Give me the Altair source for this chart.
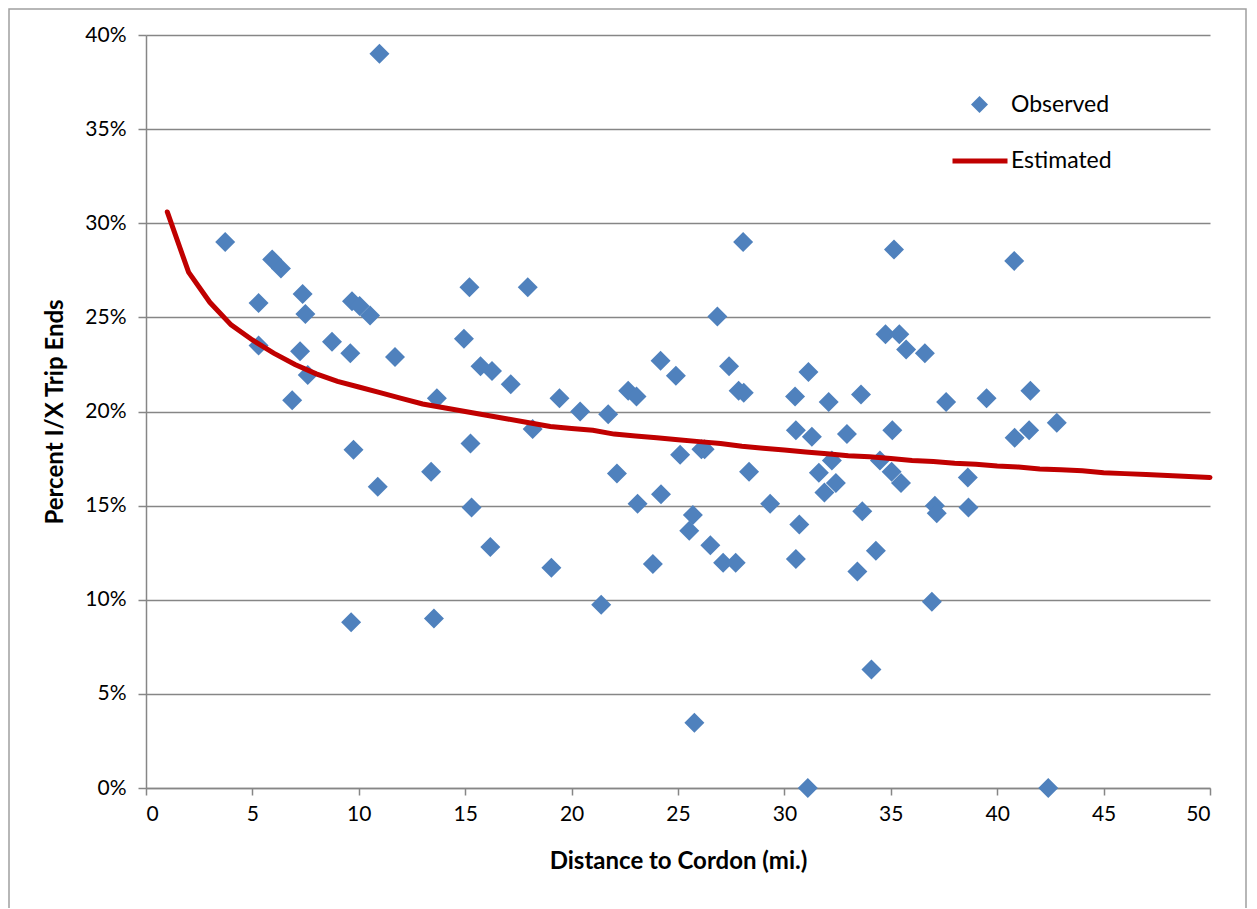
import altair as alt
import pandas as pd

# Observed points: distance (mi.) and percent I/X trip ends
obs_dist = [3.72, 5.29, 5.29, 5.93, 6.34, 7.36, 7.49, 7.24, 6.87, 7.6,
            8.74, 9.68, 10.04, 10.53, 9.6, 9.75, 9.64, 10.97, 10.89, 11.7,
            13.4, 13.67, 13.53, 14.94, 15.2, 15.25, 15.3, 15.72, 16.26, 16.18,
            17.14, 17.94, 18.17, 19.05, 19.43, 20.4, 21.39, 21.72, 22.13, 22.66,
            23.05, 23.1, 23.82, 24.18, 24.2, 24.9, 25.1, 25.53, 25.7, 25.77,
            26.1, 26.25, 26.52, 26.85, 27.12, 27.4, 27.71, 27.85, 28.06, 28.09,
            28.34, 29.33, 30.5, 30.54, 30.54, 30.7, 31.13, 31.29, 31.1, 31.62,
            31.88, 32.08, 32.23, 32.42, 32.94, 33.43, 33.6, 33.66, 34.09, 34.3,
            34.49, 34.75, 35.04, 35.07, 35.15, 35.4, 35.48, 35.72, 36.6, 36.93,
            37.07, 37.16, 37.6, 38.62, 38.65, 39.5, 40.8, 40.82, 41.5, 41.56,
            42.4, 42.8]
obs_pct = [29.0, 25.76, 23.5, 28.08, 27.6, 26.24, 25.18, 23.2, 20.6, 21.94,
           23.7, 25.86, 25.6, 25.1, 23.1, 17.97, 8.8, 39.0, 16.0, 22.9,
           16.8, 20.7, 9.0, 23.87, 26.6, 18.3, 14.9, 22.4, 22.15, 12.8,
           21.45, 26.6, 19.07, 11.7, 20.7, 20.0, 9.74, 19.85, 16.7, 21.1,
           20.8, 15.1, 11.9, 22.7, 15.6, 21.9, 17.7, 13.67, 14.5, 3.47,
           18.0, 18.0, 12.9, 25.05, 11.97, 22.4, 11.97, 21.1, 29.0, 21.0,
           16.8, 15.1, 20.8, 19.0, 12.16, 14.0, 22.1, 18.66, 0.0, 16.75,
           15.7, 20.5, 17.4, 16.2, 18.8, 11.5, 20.9, 14.7, 6.3, 12.6,
           17.4, 24.1, 16.8, 19.0, 28.6, 24.1, 16.2, 23.3, 23.1, 9.9,
           15.0, 14.6, 20.5, 16.5, 14.9, 20.7, 28.0, 18.6, 19.0, 21.1,
           0.0, 19.4]

# Estimated curve, read at each whole mile
est_dist = list(range(1, 51))
est_pct = [30.6, 27.4, 25.8, 24.6, 23.8, 23.1, 22.5, 22.0, 21.6, 21.3,
           21.0, 20.7, 20.4, 20.2, 20.0, 19.8, 19.6, 19.4, 19.2, 19.1,
           19.0, 18.8, 18.7, 18.6, 18.5, 18.4, 18.3, 18.15, 18.05, 17.95,
           17.85, 17.75, 17.65, 17.6, 17.5, 17.4, 17.35, 17.25, 17.2, 17.1,
           17.05, 16.95, 16.9, 16.85, 16.75, 16.7, 16.65, 16.6, 16.55, 16.5]

x_ticks = list(range(0, 51, 5))
y_ticks = list(range(0, 41, 5))

obs_df = pd.DataFrame({"dist": obs_dist, "pct": obs_pct, "series": "Observed"})
est_df = pd.DataFrame({"dist": est_dist, "pct": est_pct, "series": "Estimated"})

FONT = "Lato"
GRAY = "#868686"

x_enc = alt.X("dist:Q",
              scale=alt.Scale(domain=[0, 50], nice=False),
              axis=alt.Axis(values=x_ticks, title="Distance to Cordon (mi.)",
                            grid=False, tickSize=7, labelPadding=8,
                            titlePadding=25))
y_enc = alt.Y("pct:Q",
              scale=alt.Scale(domain=[0, 40], nice=False),
              axis=alt.Axis(values=y_ticks, title="Percent I/X Trip Ends",
                            labelExpr="datum.value + '%'",
                            grid=True, tickSize=8, labelPadding=12,
                            titlePadding=17))

points = alt.Chart(obs_df).mark_point(
    shape="diamond", filled=True, size=400, opacity=1
).encode(
    x=x_enc, y=y_enc,
    color=alt.Color("series:N",
                    scale=alt.Scale(domain=["Observed"], range=["#4f81bd"]),
                    legend=alt.Legend(title=None, orient="none",
                                      legendX=822, legendY=58,
                                      symbolType="diamond", symbolSize=289,
                                      symbolStrokeWidth=0, labelOffset=20,
                                      labelFontSize=23, labelFont=FONT,
                                      labelColor="#000", padding=0))
)

line = alt.Chart(est_df).mark_line(strokeWidth=5, strokeCap="round").encode(
    x="dist:Q", y="pct:Q",
    stroke=alt.Stroke("series:N",
                      scale=alt.Scale(domain=["Estimated"], range=["#c00000"]),
                      legend=alt.Legend(title=None, orient="none",
                                        legendX=804, legendY=96,
                                        symbolType="stroke", symbolSize=3025,
                                        symbolStrokeWidth=5, labelOffset=1,
                                        labelFontSize=23, labelFont=FONT,
                                        labelColor="#000", padding=0))
)

border = alt.Chart(pd.DataFrame({"a": [0]})).mark_rect(
    fill="transparent", stroke="#a0a0a0", strokeWidth=1.5
).encode(
    x=alt.value(-137), x2=alt.value(1100),
    y=alt.value(-26), y2=alt.value(900)
)

chart = alt.layer(border, points, line).properties(
    width=1064, height=753,
    autosize=alt.AutoSizeParams(type="none"),
    padding={"left": 138, "top": 27, "right": 39, "bottom": 120},
    background="white"
).configure_axis(
    labelFont=FONT, labelFontSize=21, labelColor="#000",
    titleFont=FONT, titleFontSize=24, titleFontWeight="bold", titleColor="#000",
    domainColor=GRAY, domainWidth=1.5, tickColor=GRAY, tickWidth=1.5,
    gridColor=GRAY, gridWidth=1.5, gridOpacity=1
).configure_view(strokeWidth=0)

chart.save("out.html", embed_options={"renderer": "svg", "actions": False})
